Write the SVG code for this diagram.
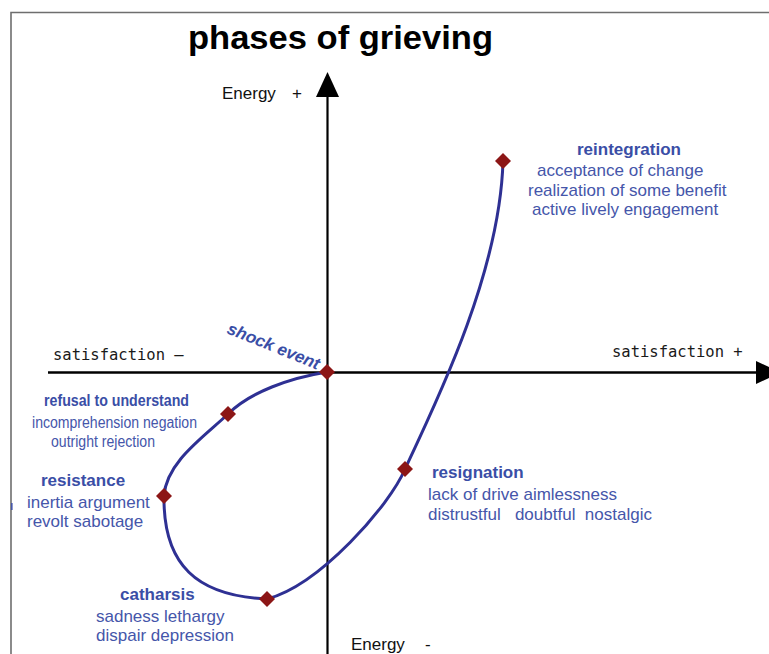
<svg xmlns="http://www.w3.org/2000/svg" width="769" height="654" viewBox="0 0 769 654">
  <style>
    .frame { stroke: #6e6e6e; stroke-width: 1.6; fill: none; }
    .axis { stroke: #000; fill: none; }
    .axis-label { font-family: "Liberation Sans", Arial, sans-serif; font-size: 17px; fill: #111; }
    .mono { font-family: "DejaVu Sans Mono", "Liberation Mono", monospace; font-size: 15.5px; fill: #1a1a1a; }
    .title { font-family: "Liberation Sans", Arial, sans-serif; font-size: 34px; font-weight: bold; fill: #000; }
    .head { font-family: "Liberation Sans", Arial, sans-serif; font-size: 17px; font-weight: bold; fill: #3a4ea6; }
    .body { font-family: "Liberation Sans", Arial, sans-serif; font-size: 17px; fill: #4556aa; }
    .head-n { font-family: "Liberation Sans", Arial, sans-serif; font-size: 16px; font-weight: bold; fill: #3a4ea6; }
    .body-n { font-family: "Liberation Sans", Arial, sans-serif; font-size: 16px; fill: #4556aa; }
    .curve { stroke: #2e3093; stroke-width: 3; fill: none; stroke-linecap: round; }
    .marker { fill: #8c1616; }
  </style>
  <defs>
    <polygon id="diamond" class="marker" points="0,-8 8,0 0,8 -8,0"/>
  </defs>

  <rect width="769" height="654" fill="#fff"/>

  <!-- page frame -->
  <path class="frame" d="M11,654 V12.5 H769"/>
  <rect x="11" y="503" width="1.6" height="7" fill="#4556aa"/>

  <text class="title" x="188" y="49" textLength="305" lengthAdjust="spacingAndGlyphs">phases of grieving</text>

  <!-- axes -->
  <g id="axes">
    <line class="axis" x1="327.5" y1="94" x2="327.5" y2="654" stroke-width="2.2"/>
    <polygon points="327.5,72 339,97 316,97" fill="#000"/>
    <line class="axis" x1="48" y1="372.5" x2="758" y2="372.5" stroke-width="2.6"/>
    <polygon points="756,361 756,384 781,372.5" fill="#000"/>
    <text class="axis-label" x="222" y="99">Energy</text>
    <text class="axis-label" x="292" y="99">+</text>
    <text class="axis-label" x="351" y="650">Energy</text>
    <text class="axis-label" x="425" y="650">-</text>
    <text class="mono" x="53" y="359.5">satisfaction –</text>
    <text class="mono" x="612" y="357">satisfaction +</text>
  </g>

  <!-- path through the phases -->
  <g id="connectors">
    <path class="curve" d="M327,372 C290,378 250,392 228,414 C205,436 166,462 164,496 C163,565 197,596 267,599 C320,585 390,505 405,469 C440,395 500,270 503,161"/>
  </g>

  <g id="shock-event">
    <use href="#diamond" x="327" y="372"/>
    <text class="head" x="226" y="333" font-size="16" font-style="italic" transform="rotate(22 226 333)">shock event</text>
  </g>

  <g id="refusal">
    <use href="#diamond" x="228" y="414"/>
    <text class="head-n" x="44" y="406" textLength="145" lengthAdjust="spacingAndGlyphs">refusal to understand</text>
    <text class="body-n" x="32" y="428" textLength="165" lengthAdjust="spacingAndGlyphs">incomprehension negation</text>
    <text class="body-n" x="51" y="447" textLength="104" lengthAdjust="spacingAndGlyphs">outright rejection</text>
  </g>

  <g id="resistance">
    <use href="#diamond" x="164" y="496"/>
    <text class="head" x="41" y="486">resistance</text>
    <text class="body" x="27" y="508">inertia argument</text>
    <text class="body" x="27" y="527">revolt sabotage</text>
  </g>

  <g id="catharsis">
    <use href="#diamond" x="267" y="599"/>
    <text class="head" x="120" y="600">catharsis</text>
    <text class="body" x="96" y="622">sadness lethargy</text>
    <text class="body" x="96" y="641">dispair depression</text>
  </g>

  <g id="resignation">
    <use href="#diamond" x="405" y="469"/>
    <text class="head" x="432" y="478">resignation</text>
    <text class="body" x="428" y="500">lack of drive aimlessness</text>
    <text class="body" x="428" y="520" xml:space="preserve">distrustful   doubtful  nostalgic</text>
  </g>

  <g id="reintegration">
    <use href="#diamond" x="503" y="161"/>
    <text class="head" x="577" y="155">reintegration</text>
    <text class="body" x="537" y="176">acceptance of change</text>
    <text class="body" x="528" y="196">realization of some benefit</text>
    <text class="body" x="532" y="215">active lively engagement</text>
  </g>
</svg>
